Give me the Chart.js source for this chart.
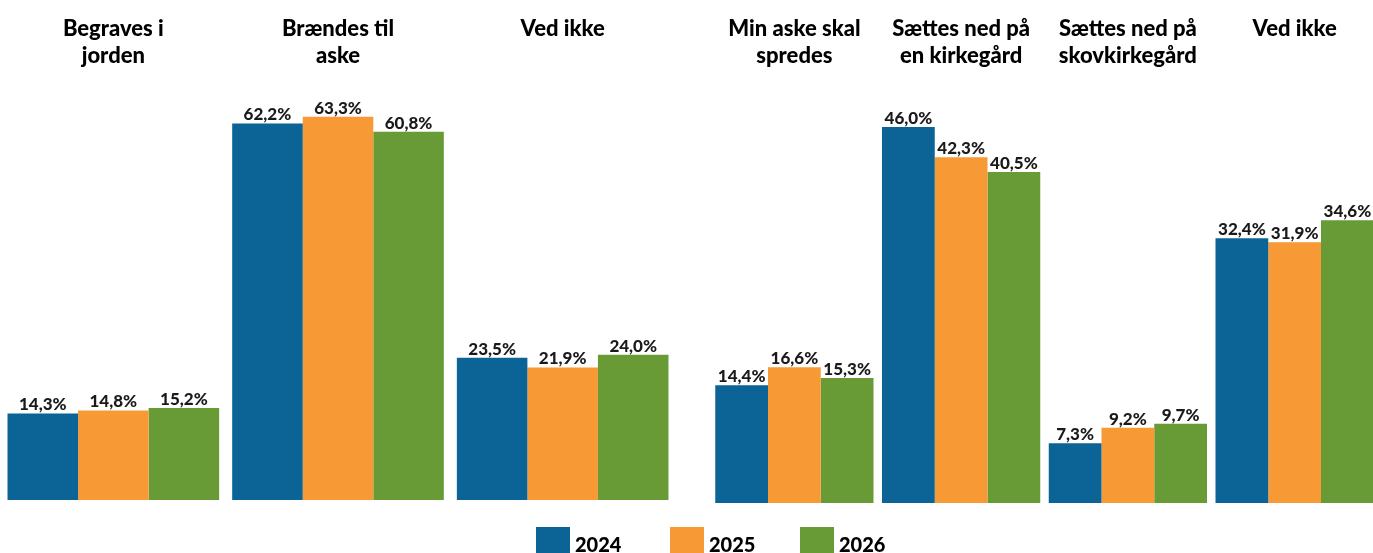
<!DOCTYPE html>
<html>
<head>
<meta charset="utf-8">
<script src="https://cdn.jsdelivr.net/npm/chart.js@4.4.1/dist/chart.umd.min.js"></script>
<style>
  html, body { margin: 0; padding: 0; background: #fff; }
  body { width: 1373px; height: 553px; position: relative; overflow: hidden; font-family: Lato, "Open Sans", sans-serif; }
  .wrap { position: absolute; top: 0; height: 553px; }
  #leftWrap { left: 1px; width: 674px; }
  #rightWrap { left: 711px; width: 667px; }
  .legend { position: absolute; top: 527px; left: 0; width: 1373px; height: 40px; }
  .legend span.box { position: absolute; top: 0; width: 34px; height: 27px; }
  .legend span.txt { position: absolute; top: 4px; font-weight: 900; font-size: 20px; color: #000; line-height: 27px; }
</style>
</head>
<body>
<div class="wrap" id="leftWrap"><canvas id="leftChart"></canvas></div>
<div class="wrap" id="rightWrap"><canvas id="rightChart"></canvas></div>
<div class="legend" id="legend"></div>

<script>
const years = ["2024", "2025", "2026"];
const colors = ["#0b6396", "#f79a36", "#689b36"];

// Left: burial form
const leftLabels = [["Begraves i", "jorden"], ["Brændes til", "aske"], ["Ved ikke", ""]];
const left2024 = [14.3, 62.2, 23.5];
const left2025 = [14.8, 63.3, 21.9];
const left2026 = [15.2, 60.8, 24.0];

// Right: where the ashes go
const rightLabels = [["Min aske skal", "spredes"], ["Sættes ned på", "en kirkegård"], ["Sættes ned på", "skovkirkegård"], ["Ved ikke", ""]];
const right2024 = [14.4, 46.0, 7.3, 32.4];
const right2025 = [16.6, 42.3, 9.2, 31.9];
const right2026 = [15.3, 40.5, 9.7, 34.6];

const fmt = v => v.toFixed(1).replace(".", ",") + "%";

// draws value labels above each bar
const valueLabels = {
  id: "valueLabels",
  afterDatasetsDraw(chart) {
    const ctx = chart.ctx;
    ctx.save();
    ctx.font = "900 17px Lato";
    ctx.fillStyle = "#1a1a1a";
    ctx.textAlign = "center";
    ctx.textBaseline = "alphabetic";
    chart.data.datasets.forEach((ds, i) => {
      chart.getDatasetMeta(i).data.forEach((bar, j) => {
        ctx.fillText(fmt(ds.data[j]), bar.x, bar.y - 3);
      });
    });
    ctx.restore();
  }
};

function makeChart(id, labels, series, yMax, padBottom, catPct) {
  const ctx = document.getElementById(id).getContext("2d");
  return new Chart(ctx, {
    type: "bar",
    data: {
      labels: labels,
      datasets: series.map((d, i) => ({
        label: years[i],
        data: d,
        backgroundColor: colors[i],
        borderWidth: 0,
        categoryPercentage: catPct,
        barPercentage: 1
      }))
    },
    options: {
      responsive: true,
      maintainAspectRatio: false,
      animation: false,
      layout: { padding: { top: 0, bottom: padBottom, left: 0, right: 0 } },
      plugins: { legend: { display: false }, tooltip: { enabled: false } },
      scales: {
        x: {
          position: "top",
          grid: { display: false, drawTicks: false },
          border: { display: false },
          ticks: {
            color: "#000",
            padding: 11,
            maxRotation: 0,
            autoSkip: false,
            font: { family: "Lato", size: 22, weight: "900", lineHeight: "27px" }
          },
          afterFit(scale) { scale.height = 80; }
        },
        y: { display: false, min: 0, max: yMax }
      }
    },
    plugins: [valueLabels]
  });
}

makeChart("leftChart", leftLabels, [left2024, left2025, left2026], 420 / 6.055, 53, 0.942);
makeChart("rightChart", rightLabels, [right2024, right2025, right2026], 423 / 8.175, 50, 0.949);

// legend
const legendPos = [536, 670, 800];
const legend = document.getElementById("legend");
years.forEach((y, i) => {
  const b = document.createElement("span");
  b.className = "box";
  b.style.left = legendPos[i] + "px";
  b.style.background = colors[i];
  legend.appendChild(b);
  const t = document.createElement("span");
  t.className = "txt";
  t.style.left = (legendPos[i] + 39) + "px";
  t.textContent = y;
  legend.appendChild(t);
});
</script>
</body>
</html>
